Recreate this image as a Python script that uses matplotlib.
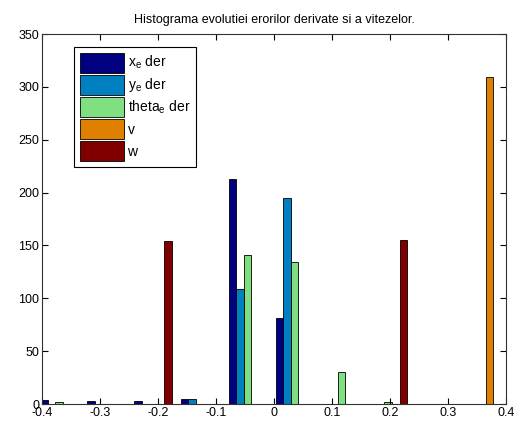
import matplotlib
matplotlib.use("Agg")
import matplotlib.pyplot as plt
import numpy as np

# centrele binurilor (hist MATLAB, 10 binuri)
centre = [-0.371, -0.290, -0.209, -0.128, -0.046, 0.035, 0.116, 0.197, 0.278, 0.359]

xe_der = [4, 3, 3, 5, 213, 81, 0, 0, 0, 0]
ye_der = [0, 0, 0, 5, 109, 195, 0, 0, 0, 0]
theta_der = [2, 0, 0, 0, 141, 134, 30, 2, 0, 0]
v = [0, 0, 0, 0, 0, 0, 0, 0, 0, 309]
w = [0, 0, 154, 0, 0, 0, 0, 155, 0, 0]

serii = [xe_der, ye_der, theta_der, v, w]
etichete = ["x$_{\\rm e}$ der", "y$_{\\rm e}$ der", "theta$_{\\rm e}$ der", "v", "w"]
culori = ["#000080", "#0080C0", "#80DF80", "#E08000", "#800000"]

xticks = [-0.4, -0.3, -0.2, -0.1, 0, 0.1, 0.2, 0.3, 0.4]
xtick_lab = ["-0.4", "-0.3", "-0.2", "-0.1", "0", "0.1", "0.2", "0.3", "0.4"]
yticks = [0, 50, 100, 150, 200, 250, 300, 350]

plt.rcParams['font.family'] = ['Liberation Sans', 'DejaVu Sans']
plt.rcParams['mathtext.fontset'] = 'custom'
plt.rcParams['mathtext.rm'] = 'Liberation Sans'

fig = plt.figure(figsize=(5.15, 4.26), dpi=100)
ax = fig.add_axes([0.0816, 0.0516, 0.9009, 0.8684])

c = np.array(centre)
pas = c[1] - c[0]
lat = 0.8 * pas / len(serii)
for i in range(len(serii)):
    pozitii = c + (i - 2) * lat
    ax.bar(pozitii, serii[i], width=lat, color=culori[i], edgecolor="black",
           linewidth=0.6, label=etichete[i])

ax.set_xlim(-0.4, 0.4)
ax.set_ylim(0, 350)
ax.set_xticks(xticks)
ax.set_xticklabels(xtick_lab)
ax.set_yticks(yticks)
ax.tick_params(direction="in", top=True, right=True, length=4, labelsize=9, pad=2)
for s in ax.spines.values():
    s.set_color("#333333")
    s.set_linewidth(0.8)

ax.set_title("Histograma evolutiei erorilor derivate si a vitezelor.", fontsize=9, pad=8)

leg = ax.legend(loc="upper left", bbox_to_anchor=(0.069, 0.965), fontsize=10,
                handlelength=3.2, handleheight=1.85, labelspacing=0.15,
                handletextpad=0.25, borderpad=0.4, fancybox=False, framealpha=1,
                borderaxespad=0)
leg.get_frame().set_edgecolor("black")
leg.get_frame().set_linewidth(0.8)

fig.savefig("out.png", dpi=100)
